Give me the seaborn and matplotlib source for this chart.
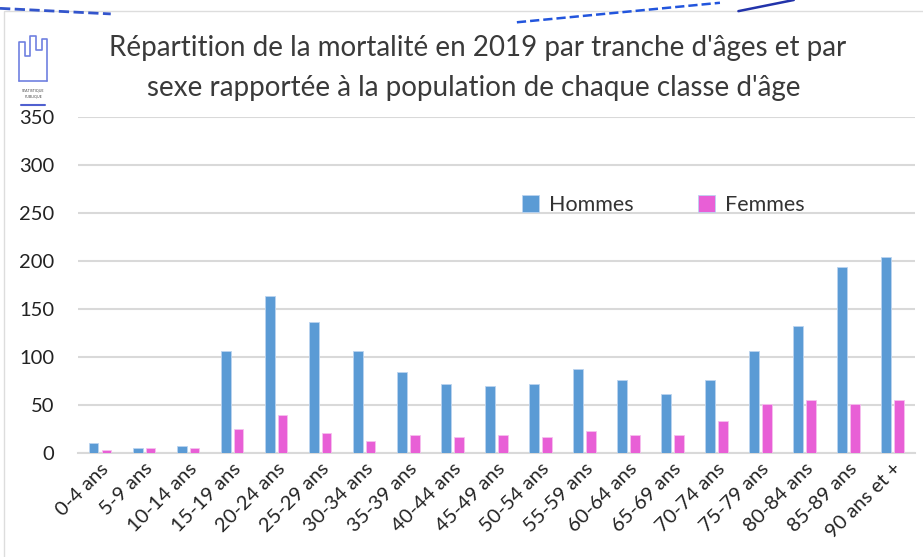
import numpy as np
import pandas as pd
import matplotlib
matplotlib.use("Agg")
import matplotlib.pyplot as plt
import seaborn as sns
from matplotlib.lines import Line2D
from matplotlib.patches import Rectangle

# Données
ages = ["0-4 ans", "5-9 ans", "10-14 ans", "15-19 ans", "20-24 ans", "25-29 ans",
        "30-34 ans", "35-39 ans", "40-44 ans", "45-49 ans", "50-54 ans", "55-59 ans",
        "60-64 ans", "65-69 ans", "70-74 ans", "75-79 ans", "80-84 ans", "85-89 ans",
        "90 ans et +"]
hommes = [10, 5, 7, 106, 164, 136, 106, 84, 72, 70, 72, 88, 76, 61, 76, 106, 132, 194, 204]
femmes = [3, 5, 5, 25, 40, 21, 13, 19, 17, 19, 17, 23, 19, 19, 33, 51, 55, 51, 55]
yticks = [0, 50, 100, 150, 200, 250, 300, 350]

df = pd.DataFrame({
    "age": ages * 2,
    "valeur": hommes + femmes,
    "sexe": ["Hommes"] * len(ages) + ["Femmes"] * len(ages),
})

sns.set_style("white")
plt.rcParams["font.family"] = ["Lato", "DejaVu Sans"]

fig = plt.figure(figsize=(9.23, 5.57), dpi=100)
ax = fig.add_axes([0.0845, 0.1867, 0.9065, 0.6033])

palette = {"Hommes": "#5B9BD5", "Femmes": "#E85FD6"}
sns.barplot(data=df, x="age", y="valeur", hue="sexe", palette=palette,
            width=0.58, gap=0.24, saturation=1, edgecolor="#BBD4F0",
            linewidth=0.6, ax=ax, zorder=3)
for bar, col in zip(ax.patches, ["#BBD4F0"] * len(ages) + ["#F6C0EE"] * len(ages)):
    bar.set_edgecolor(col)

ax.set_xlim(-0.5, len(ages) - 0.5)
ax.set_ylim(0, 350)
ax.set_yticks(yticks)
ax.set_yticklabels([str(v) for v in yticks], fontsize=14.5, color="#222222")
ax.tick_params(axis="y", length=0, pad=17)
ax.tick_params(axis="x", length=0, pad=5)
ax.set_xticks(range(len(ages)))
ax.set_xticklabels(ages, rotation=45, ha="right", rotation_mode="anchor",
                   fontsize=14.5, color="#222222")
ax.set_xlabel("")
ax.set_ylabel("")
ax.yaxis.grid(True, color="#D9D9D9", linewidth=1.5, zorder=0)
ax.set_axisbelow(True)
for side in ["top", "right", "left"]:
    ax.spines[side].set_visible(False)
ax.spines["bottom"].set_color("#D9D9D9")
ax.spines["bottom"].set_linewidth(1.5)

handles, labels = ax.get_legend_handles_labels()
ax.legend(handles, labels, loc="center", bbox_to_anchor=(0.70, 0.738), ncol=2,
          frameon=False, fontsize=15.5, handlelength=0.75, handleheight=0.85,
          columnspacing=3.0, handletextpad=0.5, labelcolor="#333333")

fig.text(0.517, 0.913, "Répartition de la mortalité en 2019 par tranche d'âges et par",
         ha="center", va="center", fontsize=20, color="#3a3a3a")
fig.text(0.513, 0.842, "sexe rapportée à la population de chaque classe d'âge",
         ha="center", va="center", fontsize=20, color="#3a3a3a")

# cadre et décor du haut
fig.add_artist(Rectangle((0.004, -0.01), 1.0, 0.99, transform=fig.transFigure,
                         fill=False, edgecolor="#DDDDDD", linewidth=1))
fig.add_artist(Line2D([0.0, 0.12], [0.985, 0.975], transform=fig.transFigure,
                      color="#3355CC", linewidth=2, linestyle="--"))
fig.add_artist(Line2D([0.56, 0.78], [0.96, 0.995], transform=fig.transFigure,
                      color="#2255DD", linewidth=1.8, linestyle="--"))
fig.add_artist(Line2D([0.8, 0.86], [0.98, 1.0], transform=fig.transFigure,
                      color="#2233AA", linewidth=1.8))

# logo Statistique publique
logo_x = [0.021, 0.021, 0.027, 0.027, 0.033, 0.033, 0.039, 0.039, 0.045, 0.045, 0.051, 0.051]
logo_y = [0.855, 0.925, 0.925, 0.90, 0.90, 0.935, 0.935, 0.91, 0.91, 0.93, 0.93, 0.855]
fig.add_artist(Line2D(logo_x, logo_y, transform=fig.transFigure, color="#7080E0", linewidth=1.2))
fig.add_artist(Line2D([0.021, 0.051], [0.855, 0.855], transform=fig.transFigure, color="#7080E0", linewidth=1.2))
fig.text(0.036, 0.838, "STATISTIQUE", ha="center", va="center", fontsize=2.6, color="#444444")
fig.text(0.036, 0.826, "PUBLIQUE", ha="center", va="center", fontsize=2.6, color="#444444")
fig.add_artist(Line2D([0.023, 0.049], [0.812, 0.812], transform=fig.transFigure, color="#5060D0", linewidth=1.5))

fig.savefig("out.png", dpi=100)
